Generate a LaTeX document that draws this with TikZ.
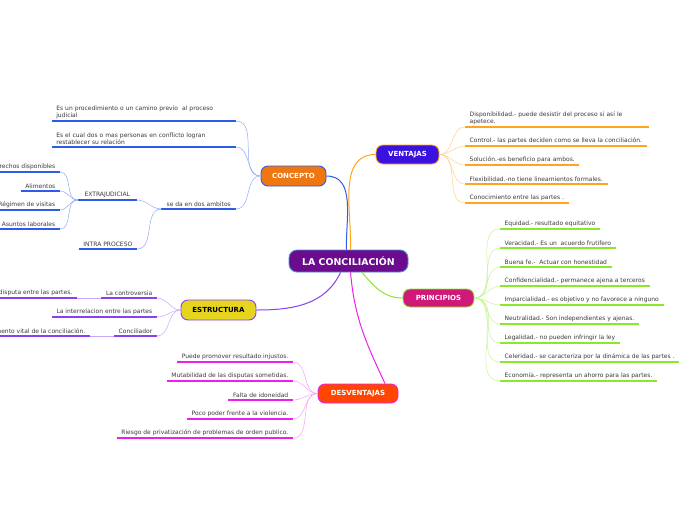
\documentclass[tikz,border=0pt]{standalone}
\usepackage{fontspec}
\setmainfont{DejaVu Sans}
\usepackage{xcolor}
\definecolor{leaftext}{HTML}{3A3A3A}
\definecolor{centrefill}{HTML}{6B0B8E}
\definecolor{centreline}{HTML}{4A8FD6}
\definecolor{conceptofill}{HTML}{EE7711}
\definecolor{ventajasfill}{HTML}{3A12DD}
\definecolor{principiosfill}{HTML}{CF1877}
\definecolor{estructurafill}{HTML}{E6D51F}
\definecolor{desvfill}{HTML}{FF4500}
\definecolor{bluedark}{HTML}{2F5BEA}
\definecolor{bluelight}{HTML}{93ACF5}
\definecolor{orangedark}{HTML}{FFA41B}
\definecolor{orangelight}{HTML}{FFD08A}
\definecolor{greendark}{HTML}{8BE82A}
\definecolor{greenlight}{HTML}{C6F59A}
\definecolor{purpledark}{HTML}{8A3FF0}
\definecolor{purplelight}{HTML}{C7A8F8}
\definecolor{magentadark}{HTML}{EE1FEE}
\definecolor{magentalight}{HTML}{F5A3F5}

\begin{document}
\begin{tikzpicture}[
      x=1pt, y=-1pt,
      hub/.style={draw, line width=0.9pt, rounded corners=7pt, font=\bfseries\fontsize{7}{8}\selectfont, text=white, minimum height=19pt, inner xsep=6pt},
      leaf/.style={font=\fontsize{6}{7.2}\selectfont, text=leaftext, inner xsep=4.5pt, inner ysep=2.2pt, align=left},
      link/.style={line width=1pt},
      twig/.style={line width=0.5pt},
      uline/.style={line width=1.4pt}
    ]
    \useasboundingbox (0,0) rectangle (696,520);
    \fill[white] (0,0) rectangle (696,520);

    \node[hub, fill=centrefill, draw=centreline, font=\bfseries\fontsize{9.4}{11}\selectfont, minimum width=119pt, minimum height=22pt, rounded corners=8pt] (conc) at (348.5,261) {LA CONCILIACIÓN};
    \node[hub, fill=conceptofill, draw=bluedark, minimum width=65pt, minimum height=20pt] (concepto) at (293.5,176) {CONCEPTO};
    \node[hub, fill=ventajasfill, draw=orangedark, minimum width=63pt] (ventajas) at (407.5,154.5) {VENTAJAS};
    \node[hub, fill=principiosfill, draw=greendark, minimum width=71pt, minimum height=18pt] (principios) at (438.5,298) {PRINCIPIOS};
    \node[hub, fill=estructurafill, draw=purpledark, text=black, minimum width=75pt, minimum height=20pt] (estructura) at (218.5,310) {ESTRUCTURA};
    \node[hub, fill=desvfill, draw=magentadark, minimum width=80pt] (desv) at (358,393.5) {DESVENTAJAS};

    \draw[link, bluedark] (conc.100) to[out=92,in=0] (concepto.east);
    \draw[link, orangedark] (conc.80) to[out=88,in=180] (ventajas.west);
    \draw[link, greendark] (conc.-40) to[out=-50,in=180] (principios.west);
    \draw[link, purpledark] (conc.-125) to[out=-115,in=0] (estructura.east);
    \draw[link, magentadark] (conc.-80) to[out=-85,in=115] ([xshift=27pt]desv.north);

    % concepto
    \node[leaf, anchor=south east, text width=175pt] (c1) at (236,121) {Es un procedimiento o un camino previo\ \ al proceso\\judicial};
    \node[leaf, anchor=south east, text width=175pt] (c2) at (236,147) {Es el cual dos o mas personas en conflicto logran\\restablecer su relación};
    \node[leaf, anchor=south east, inner xsep=5pt] (c3) at (236,209) {se da en dos ambitos};
    \node[leaf, anchor=south east, minimum width=59pt, align=right] (c4) at (137,200) {EXTRAJUDICIAL};
    \node[leaf, anchor=south east] (c5) at (137,249) {INTRA PROCESO};
    \node[leaf, anchor=south east] (e1) at (60,172) {Derechos disponibles};
    \node[leaf, anchor=south east] (e2) at (60,191) {Alimentos};
    \node[leaf, anchor=south east] (e3) at (60,210) {Régimen de visitas};
    \node[leaf, anchor=south east] (e4) at (60,229) {Asuntos laborales};
    \foreach \n in {c1,c2,c3,c4,c5,e1,e2,e3,e4}
      \draw[uline, bluedark] (\n.south west) -- (\n.south east);
    \foreach \n in {c1,c2,c3}
      \draw[twig, bluelight] (concepto.west) to[out=180,in=0] (\n.south east);
    \foreach \n in {c4,c5}
      \draw[twig, bluelight] (c3.south west) to[out=180,in=0] (\n.south east);
    \foreach \n in {e1,e2,e3,e4}
      \draw[twig, bluelight] (c4.south west) to[out=180,in=0] (\n.south east);

    % ventajas
    \node[leaf, anchor=south west, text width=175pt] (v1) at (465,127) {Disponibilidad.- puede desistir del proceso si así le\\apetece.};
    \node[leaf, anchor=south west] (v2) at (465,146) {Control.- las partes deciden como se lleva la conciliación.};
    \node[leaf, anchor=south west] (v3) at (465,165) {Solución.-es beneficio para ambos.};
    \node[leaf, anchor=south west] (v4) at (465,184) {Flexibilidad.-no tiene lineamientos formales.};
    \node[leaf, anchor=south west] (v5) at (465,203) {Conocimiento entre las partes .};
    \foreach \i in {1,...,5} {
      \draw[uline, orangedark] (v\i.south west) -- (v\i.south east);
      \draw[twig, orangelight] (ventajas.east) to[out=0,in=180] (v\i.south west);
    }

    % principios
    \node[leaf, anchor=south west] (p1) at (500,229) {Equidad.- resultado equitativo};
    \node[leaf, anchor=south west] (p2) at (500,248) {Veracidad.- Es un\ \ acuerdo frutifero};
    \node[leaf, anchor=south west] (p3) at (500,267) {Buena fe.-\ \ Actuar con honestidad};
    \node[leaf, anchor=south west] (p4) at (500,286) {Confidencialidad.- permanece ajena a terceros};
    \node[leaf, anchor=south west] (p5) at (500,305) {Imparcialidad.- es objetivo y no favorece a ninguno};
    \node[leaf, anchor=south west] (p6) at (500,324) {Neutralidad.- Son independientes y ajenas.};
    \node[leaf, anchor=south west] (p7) at (500,343) {Legalidad.- no pueden infringir la ley};
    \node[leaf, anchor=south west] (p8) at (500,362) {Celeridad.- se caracteriza por la dinámica de las partes .};
    \node[leaf, anchor=south west] (p9) at (500,381) {Economía.- representa un ahorro para las partes.};
    \foreach \i in {1,...,9} {
      \draw[uline, greendark] (p\i.south west) -- (p\i.south east);
      \draw[twig, greenlight] (principios.east) to[out=0,in=180] (p\i.south west);
    }

    % estructura
    \node[leaf, anchor=south east] (s1) at (157,298) {La controversia};
    \node[leaf, anchor=south east] (s2) at (157,317) {La interrelacion entre las partes};
    \node[leaf, anchor=south east] (s3) at (157,336) {Conciliador};
    \node[leaf, anchor=south east] (s4) at (77,298) {disputa entre las partes.};
    \node[leaf, anchor=south east] (s5) at (90,336) {Elemento vital de la conciliación.};
    \foreach \n in {s1,s2,s3,s4,s5}
      \draw[uline, purpledark] (\n.south west) -- (\n.south east);
    \foreach \n in {s1,s2,s3}
      \draw[twig, purplelight] (estructura.west) to[out=180,in=0] (\n.south east);
    \draw[twig, purplelight, line width=1pt] (s1.south west) -- (s4.south east);
    \draw[twig, purplelight, line width=1pt] (s3.south west) -- (s5.south east);

    % desventajas
    \node[leaf, anchor=south east] (d1) at (293,362) {Puede promover resultado injustos.};
    \node[leaf, anchor=south east] (d2) at (293,381) {Mutabilidad de las disputas sometidas.};
    \node[leaf, anchor=south east] (d3) at (293,400) {Falta de idoneidad};
    \node[leaf, anchor=south east] (d4) at (293,419) {Poco poder frente a la violencia.};
    \node[leaf, anchor=south east] (d5) at (293,438) {Riesgo de privatización de problemas de orden publico.};
    \foreach \i in {1,...,5} {
      \draw[uline, magentadark] (d\i.south west) -- (d\i.south east);
      \draw[twig, magentalight] (desv.west) to[out=180,in=0] (d\i.south east);
    }
  \end{tikzpicture}
\end{document}
